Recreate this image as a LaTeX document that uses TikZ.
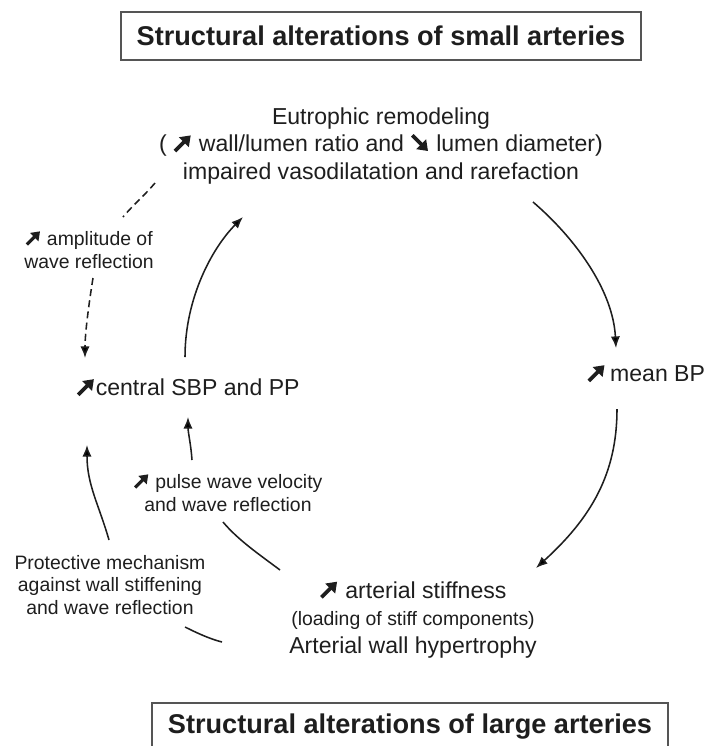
\documentclass[tikz,border=0pt]{standalone}
\usepackage{fontspec}
\setmainfont{Liberation Sans}
\usepackage{xcolor}
\usetikzlibrary{arrows.meta,positioning}
\definecolor{oink}{HTML}{1E1E1E}
\definecolor{oframe}{HTML}{555555}
\newcommand{\upar}{\tikz[baseline=0pt,x=1em,y=1em]\draw[draw=oink,fill=oink,line width=0.16em,
  -{Triangle[length=0.42em,width=0.58em]}] (0.06,0.04) -- (0.74,0.72);}
\newcommand{\dnar}{\tikz[baseline=0pt,x=1em,y=1em]\draw[draw=oink,fill=oink,line width=0.16em,
  -{Triangle[length=0.42em,width=0.58em]}] (0.06,0.72) -- (0.74,0.04);}

\begin{document}
\begin{tikzpicture}[
  x=0.025cm, y=-0.025cm,
  hd/.style={draw=oframe,line width=0.9pt,minimum width=13cm,minimum height=1.2cm,
             font=\fontsize{19.3}{23}\selectfont\bfseries,text=oink},
  t/.style={font=\fontsize{16.4}{19.6}\selectfont,align=center,inner sep=0pt,text=oink},
  s/.style={font=\fontsize{13.8}{16.2}\selectfont,align=center,inner sep=0pt,text=oink},
  a/.style={-{Latex[length=2.9mm,width=2.3mm]},draw=oink,line width=1.1pt},
  l/.style={draw=oink,line width=1.1pt},
  d/.style={draw=oink,line width=1.1pt,dash pattern=on 5pt off 3pt}
]
\useasboundingbox (0,0) rectangle (705,746);
\clip (0,0) rectangle (705,746);
\node[hd] (small) at (381,36) {Structural alterations of small arteries};
\node[t] (remodel) at (381,146) {Eutrophic remodeling\\( \upar{} wall/lumen ratio and \dnar{} lumen diameter)\\impaired vasodilatation and rarefaction};
\node[t] (meanbp) at (646,373) {\upar\,mean BP};
\node[t] (central) at (188,387) {\upar central SBP and PP};
\node[t] (stiff) at (413,619) {\upar{} arterial stiffness\\{\fontsize{13.8}{16.2}\selectfont (loading of stiff components)}\\Arterial wall hypertrophy};
\node[s] (pulse) at (228,492) {\upar{} pulse wave velocity\\and wave reflection};
\node[s] (protect) at (110,585) {Protective mechanism\\against wall stiffening\\and wave reflection};
\node[s] (ampl) at (89,249) {\upar{} amplitude of\\wave reflection};
\node[hd,minimum width=12.9cm] (large) at (410,727) {Structural alterations of large arteries};
% cycle
\draw[a] ([shift={(152,56)}]remodel.center) .. controls +(42,36) and +(-3,-58) .. ([shift={(-30,-25)}]meanbp.center);
\draw[a] ([shift={(-29,36)}]meanbp.center) .. controls +(0,65) and +(55,-50) .. ([shift={(123,-51)}]stiff.center);
\draw[l] ([shift={(-133,-49)}]stiff.center) .. controls +(-20,-15) and +(15,18) .. ([shift={(-5,30)}]pulse.center);
\draw[a] ([shift={(-36,-32)}]pulse.center) .. controls +(-1,-15) and +(0,15) .. ([shift={(0,30)}]central.center);
\draw[l] ([shift={(-191,23)}]stiff.center) .. controls +(-12,-3) and +(12,6) .. ([shift={(75,42)}]protect.center);
\draw[a] ([shift={(-1,-45)}]protect.center) .. controls +(-10,-35) and +(0,40) .. ([shift={(-101,58)}]central.center);
\draw[a] ([shift={(-3,-30)}]central.center) .. controls +(0,-60) and +(-30,30) .. ([shift={(-138,71)}]remodel.center);
% dashed feedback
\draw[d] ([shift={(-226,37)}]remodel.center) .. controls +(-10,12) and +(10,-12) .. ([shift={(34,-32)}]ampl.center);
\draw[d,-{Latex[length=2.9mm,width=2.3mm]}] ([shift={(4,29)}]ampl.center) .. controls +(-4,25) and +(0,-25) .. ([shift={(-103,-29)}]central.center);
\end{tikzpicture}
\end{document}
